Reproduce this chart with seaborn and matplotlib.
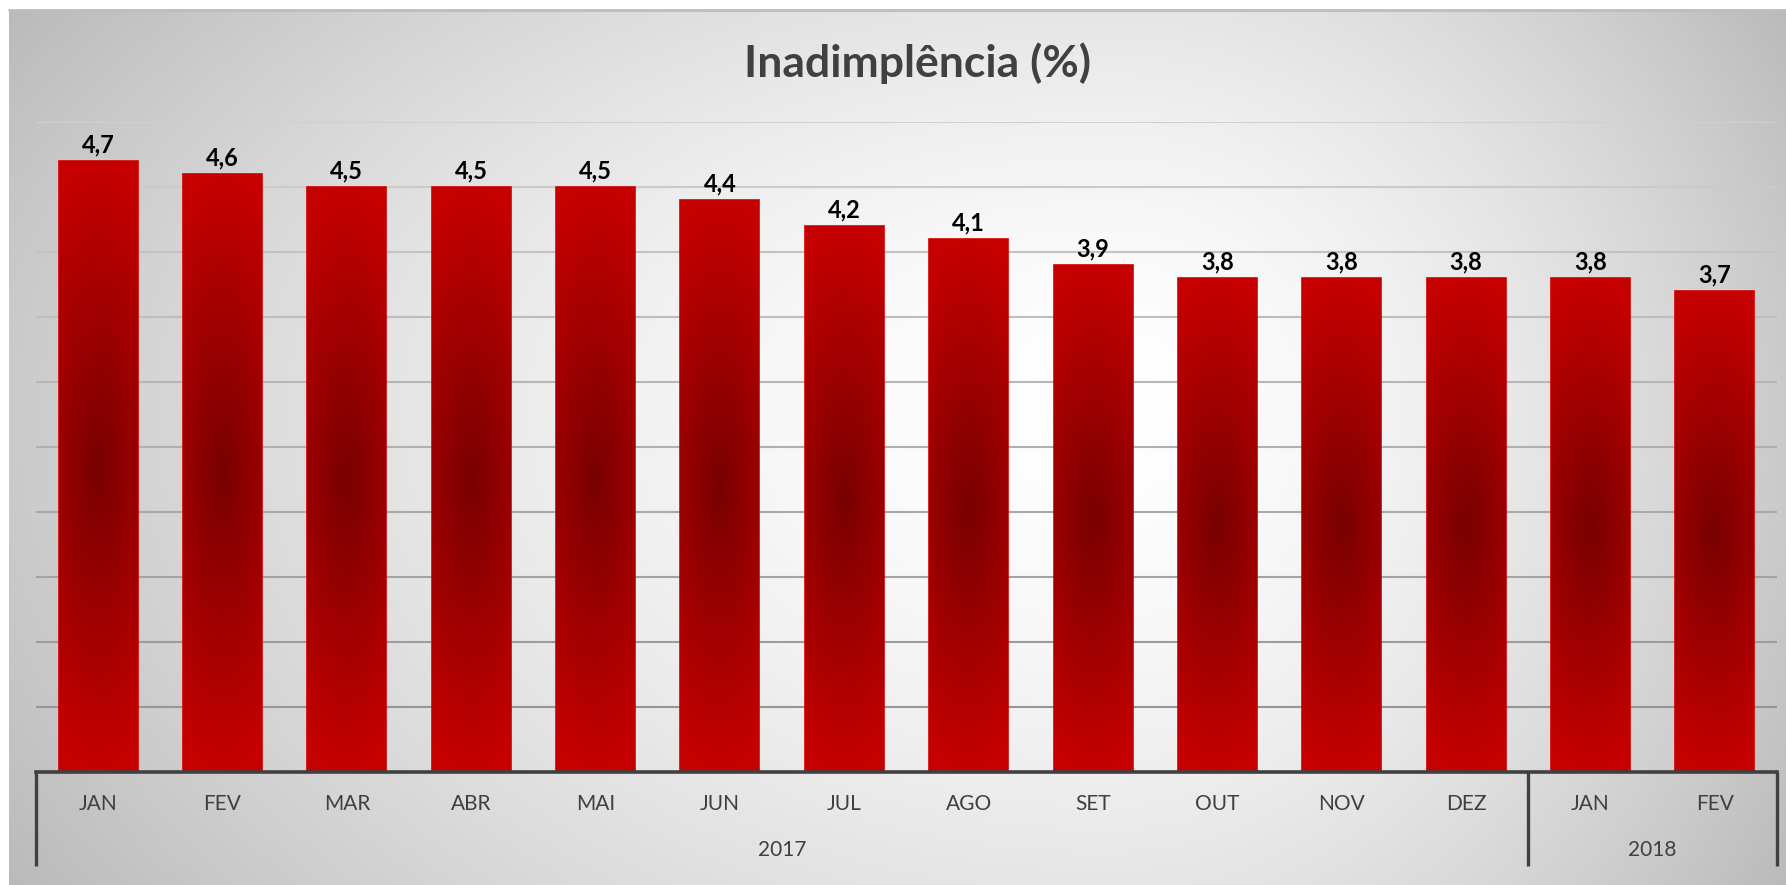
import numpy as np
import pandas as pd
import matplotlib
matplotlib.use('Agg')
import matplotlib.pyplot as plt
import matplotlib.transforms as mtransforms
from matplotlib.colors import to_rgb
import seaborn as sns

meses = ['JAN', 'FEV', 'MAR', 'ABR', 'MAI', 'JUN', 'JUL',
         'AGO', 'SET', 'OUT', 'NOV', 'DEZ', 'JAN', 'FEV']
anos = ['2017'] * 12 + ['2018'] * 2
inadimplencia = [4.7, 4.6, 4.5, 4.5, 4.5, 4.4, 4.2, 4.1, 3.9, 3.8, 3.8, 3.8, 3.8, 3.7]
grade = [0.5, 1.0, 1.5, 2.0, 2.5, 3.0, 3.5, 4.0, 4.5, 5.0]

df = pd.DataFrame({'pos': range(len(meses)), 'mes': meses, 'ano': anos,
                   'valor': inadimplencia})

sns.set_theme(style='white')
plt.rcParams['font.family'] = ['Lato', 'DejaVu Sans']

fig = plt.figure(figsize=(17.86, 8.85), dpi=100, facecolor='white')

# fundo com gradiente radial (cinza nas bordas, branco no centro)
bg = fig.add_axes([0, 0, 1, 1], zorder=-10)
bg.set_axis_off()
H, W = 300, 600
yy, xx = np.mgrid[0:1:H * 1j, 0:1:W * 1j]
cx, cy = 0.62, 0.45
dx = np.where(xx < cx, (xx - cx) / cx, (xx - cx) / (1 - cx))
dy = np.where(yy < cy, (yy - cy) / cy, (yy - cy) / (1 - cy))
d = np.clip(np.sqrt(dx ** 2 + 0.4 * dy ** 2) / np.sqrt(1.4), 0, 1)
g = 1 - 0.27 * d ** 1.6
bg.imshow(np.dstack([g, g, g]), extent=[9 / 1786, 1, 0, 1 - 10 / 885],
          aspect='auto', origin='upper')
bg.plot([9 / 1786, 1], [1 - 10 / 885] * 2, color='#bdbdbd', lw=2)
bg.set_xlim(0, 1)
bg.set_ylim(0, 1)

ax = fig.add_axes([36 / 1786, 113 / 885, 1741 / 1786, 650 / 885])
ax.patch.set_alpha(0)

sns.barplot(data=df, x='pos', y='valor', width=0.635, color='#c00000',
            edgecolor='#d40000', linewidth=1.2, ax=ax, zorder=3)

# gradiente das barras: escuro no centro, vermelho vivo nas bordas
v = np.linspace(-1, 1, 300)[:, None]
u = np.linspace(-1, 1, 60)[None, :]
t = np.clip(np.sqrt(v ** 2 + 0.2 * u ** 2), 0, 1)
escuro = np.array(to_rgb('#780000'))
vivo = np.array(to_rgb('#c60000'))
img = escuro + (vivo - escuro) * t[..., None]
for p in ax.patches:
    x0, w, h = p.get_x(), p.get_width(), p.get_height()
    ax.imshow(img, extent=[x0, x0 + w, 0, h], aspect='auto',
              zorder=3.5, clip_path=p, clip_on=True)

for i, val in enumerate(inadimplencia):
    ax.annotate(f'{val:.1f}'.replace('.', ','), (i, val), xytext=(0, 3),
                textcoords='offset points', ha='center', va='bottom',
                fontsize=17, fontweight='bold', color='black', zorder=5)

# linhas de grade com tom mais escuro embaixo
c_top = np.array(to_rgb('#d0d0d0'))
c_bot = np.array(to_rgb('#969696'))
for yv in grade:
    f = (yv - grade[0]) / (grade[-1] - grade[0])
    ax.axhline(yv, color=c_bot + (c_top - c_bot) * f, lw=1.5, zorder=1)

ax.set_xlim(-0.5, len(meses) - 0.5)
ax.set_ylim(0, 5)
ax.set_yticks([])
ax.set_xticks(range(len(meses)))
ax.set_xticklabels(meses, fontsize=15, color='#404040')
ax.tick_params(axis='x', length=0, pad=16)
ax.set_xlabel('')
ax.set_ylabel('')
for s in ['top', 'right', 'left']:
    ax.spines[s].set_visible(False)
ax.spines['bottom'].set_color('#404040')
ax.spines['bottom'].set_linewidth(2.6)
ax.spines['bottom'].set_zorder(6)

# eixo agrupado por ano
trans = mtransforms.blended_transform_factory(ax.transData, ax.transAxes)
grupos = df.groupby('ano')['pos'].agg(['min', 'max'])
bordas = sorted(set([grupos['min'].min() - 0.5] + list(grupos['max'] + 0.5)))
for xb in bordas:
    ax.plot([xb, xb], [0, -0.1446], transform=trans, clip_on=False,
            color='#404040', lw=2.4, solid_capstyle='butt', zorder=6)
for ano, row in grupos.iterrows():
    ax.text((row['min'] + row['max']) / 2, -0.12, ano, transform=trans,
            ha='center', va='center', fontsize=15, color='#404040')

fig.text(0.5137, 0.929, 'Inadimplência (%)', ha='center', va='center',
         fontsize=32, fontweight='bold', color='#404040')

fig.savefig('out.png', dpi=100, facecolor='white')
